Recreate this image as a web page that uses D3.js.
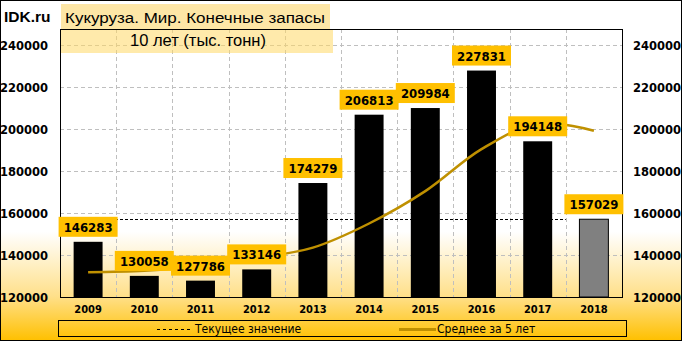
<!DOCTYPE html>
<html>
<head>
<meta charset="utf-8">
<script src="https://d3js.org/d3.v7.min.js"></script>
<title>Кукуруза. Мир. Конечные запасы</title>
<style>
  body { margin: 0; background: #fff; }
  svg { display: block; }
  .num { font-family: 'DejaVu Sans Condensed', 'DejaVu Sans', sans-serif; font-stretch: condensed; font-weight: bold; }
</style>
</head>
<body>
<script>
var years   = ["2009","2010","2011","2012","2013","2014","2015","2016","2017","2018"];
var stocks  = [146283, 130058, 127786, 133146, 174279, 206813, 209984, 227831, 194148, 157029];
var avg5    = [131800, 132500, 134500, 138500, 143500, 155000, 170400, 190400, 202600, 199200];
var current = 157029;
var yTicks  = [120000, 140000, 160000, 180000, 200000, 220000, 240000];

var W = 682, H = 342,
    pl = 60, pr = 622,     // plot area
    pt = 29, pb = 297,
    gold = "#BF9000",
    labelFill = "#FFC000";

var svg = d3.select("body").append("svg")
  .attr("width", W)
  .attr("height", H);

// background gradient
var grad = svg.append("defs").append("linearGradient")
  .attr("id", "bg").attr("x1", 0).attr("y1", 0).attr("x2", 0).attr("y2", 1);
grad.append("stop").attr("offset", 0).attr("stop-color", "#fff");
grad.append("stop").attr("offset", 0.68).attr("stop-color", "#fff");
grad.append("stop").attr("offset", 0.87).attr("stop-color", "#FFE08A");
grad.append("stop").attr("offset", 1).attr("stop-color", "#FFC000");

svg.append("rect")
  .attr("x", 0.5).attr("y", 0.5)
  .attr("width", W - 1).attr("height", H - 2)
  .attr("fill", "url(#bg)")
  .attr("stroke", "#000");

var x = d3.scaleBand().domain(years).range([pl, pr])
  .paddingInner(0.485).paddingOuter(0.2425);
var step = x.step();
var y = d3.scaleLinear().domain([120000, 240000]).range([297, 45]);

// gridlines
svg.append("g").selectAll("line")
  .data(yTicks.slice(1))
  .enter().append("line")
    .attr("x1", pl).attr("x2", pr)
    .attr("y1", function(d){ return Math.round(y(d)) + 0.5; })
    .attr("y2", function(d){ return Math.round(y(d)) + 0.5; })
    .attr("stroke", "#BFBFBF")
    .attr("stroke-dasharray", "4,3");
svg.append("g").selectAll("line")
  .data(years.slice(1))
  .enter().append("line")
    .attr("x1", function(d){ return Math.round(x(d) - (step - x.bandwidth())/2) + 0.5; })
    .attr("x2", function(d){ return Math.round(x(d) - (step - x.bandwidth())/2) + 0.5; })
    .attr("y1", pt).attr("y2", pb)
    .attr("stroke", "#BFBFBF")
    .attr("stroke-dasharray", "4,3");

// title boxes
svg.append("rect").attr("x", 61).attr("y", 4).attr("width", 269).attr("height", 25)
  .attr("fill", "#FDE6A6");
svg.append("rect").attr("x", 61).attr("y", 29).attr("width", 272).attr("height", 24)
  .attr("fill", "#FFD966").attr("fill-opacity", 0.55);

// current value dashed line
var lastStart = x(years[years.length - 1]) - (step - x.bandwidth())/2;
svg.append("line")
  .attr("x1", pl).attr("x2", lastStart)
  .attr("y1", Math.round(y(current)) + 0.5).attr("y2", Math.round(y(current)) + 0.5)
  .attr("stroke", "#000")
  .attr("stroke-dasharray", "3,2");

// bars
svg.append("g").selectAll("rect")
  .data(stocks)
  .enter().append("rect")
    .attr("x", function(d,i){ return x(years[i]); })
    .attr("y", function(d){ return y(d); })
    .attr("width", x.bandwidth())
    .attr("height", function(d){ return pb - y(d); })
    .attr("fill", function(d,i){ return i == stocks.length - 1 ? "#808080" : "#000"; })
    .attr("stroke", "#000")
    .attr("stroke-width", function(d,i){ return i == stocks.length - 1 ? 1 : 0; });

// 5-year average
var line = d3.line()
  .x(function(d,i){ return x(years[i]) + x.bandwidth()/2; })
  .y(function(d){ return y(d); })
  .curve(d3.curveCatmullRom);
svg.append("path")
  .attr("d", line(avg5))
  .attr("fill", "none")
  .attr("stroke", gold)
  .attr("stroke-width", 2.5);

// plot frame
svg.append("rect")
  .attr("x", pl + 0.5).attr("y", pt + 0.5)
  .attr("width", pr - pl).attr("height", pb - pt)
  .attr("fill", "none").attr("stroke", "#000");

// value labels
var lab = svg.append("g").selectAll("g")
  .data(stocks)
  .enter().append("g")
    .attr("transform", function(d,i){ return "translate(" + (x(years[i]) + x.bandwidth()/2) + "," + (y(d) - 5) + ")"; });
lab.append("rect")
  .attr("x", -29.5).attr("y", -20)
  .attr("width", 59).attr("height", 20)
  .attr("fill", labelFill);
lab.append("text")
  .attr("class", "num")
  .attr("text-anchor", "middle")
  .attr("y", -5)
  .attr("font-size", 13)
  .text(function(d){ return d; });

// axes
var yl = d3.axisLeft(y).tickValues(yTicks).tickSize(0).tickPadding(0).tickFormat(d3.format("d"));
var yr = d3.axisRight(y).tickValues(yTicks).tickSize(0).tickPadding(0).tickFormat(d3.format("d"));
var gl = svg.append("g").attr("transform", "translate(48,0)").call(yl);
var gr = svg.append("g").attr("transform", "translate(633,0)").call(yr);
[gl, gr].forEach(function(g){
  g.select(".domain").remove();
  g.selectAll("text").attr("class", "num").attr("font-size", 12.8).attr("fill", "#000");
});
var gx = svg.append("g").attr("transform", "translate(0," + pb + ")")
  .call(d3.axisBottom(x).tickSize(0).tickPadding(8));
gx.select(".domain").remove();
gx.selectAll("text").attr("class", "num").attr("font-size", 11).attr("fill", "#000");

// titles
svg.append("text")
  .attr("x", 4).attr("y", 22)
  .attr("font-family", "Liberation Sans, Arial, sans-serif")
  .attr("font-weight", "bold")
  .attr("font-size", 15.5)
  .text("IDK.ru");
svg.append("text")
  .attr("x", 65).attr("y", 23)
  .attr("font-family", "Liberation Sans, Arial, sans-serif")
  .attr("font-size", 15.5)
  .attr("textLength", 260).attr("lengthAdjust", "spacingAndGlyphs")
  .text("Кукуруза. Мир. Конечные запасы");
svg.append("text")
  .attr("x", 198).attr("y", 46)
  .attr("text-anchor", "middle")
  .attr("font-family", "Liberation Sans, Arial, sans-serif")
  .attr("font-size", 16.5)
  .text("10 лет (тыс. тонн)");

// legend
var leg = svg.append("g");
leg.append("rect")
  .attr("x", 58.5).attr("y", 320.5).attr("width", 568).attr("height", 16)
  .attr("fill", "none").attr("stroke", "#000");
leg.append("line")
  .attr("x1", 157).attr("x2", 191).attr("y1", 329.5).attr("y2", 329.5)
  .attr("stroke", "#000").attr("stroke-dasharray", "3,3");
leg.append("text")
  .attr("x", 195).attr("y", 333)
  .attr("font-family", "DejaVu Sans Condensed, DejaVu Sans, sans-serif")
  .attr("font-size", 12)
  .text("Текущее значение");
leg.append("line")
  .attr("x1", 399).attr("x2", 436).attr("y1", 329.5).attr("y2", 329.5)
  .attr("stroke", gold).attr("stroke-width", 3);
leg.append("text")
  .attr("x", 437).attr("y", 333)
  .attr("font-family", "DejaVu Sans Condensed, DejaVu Sans, sans-serif")
  .attr("font-size", 12)
  .text("Среднее за 5 лет");
</script>
</body>
</html>
